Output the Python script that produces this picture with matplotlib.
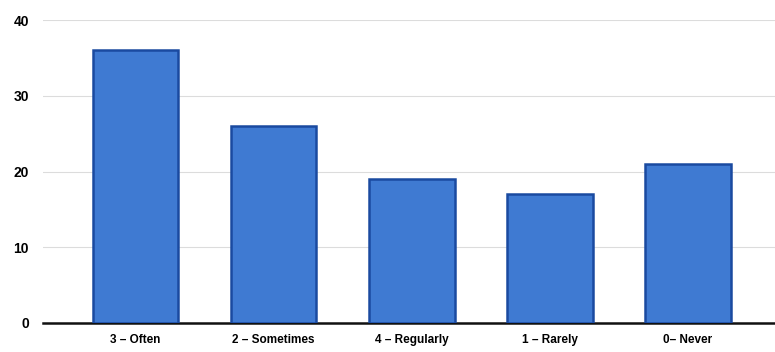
import matplotlib.pyplot as plt

categories = ["3 \u2013 Often", "2 \u2013 Sometimes", "4 \u2013 Regularly", "1 \u2013 Rarely", "0\u2013 Never"]
counts = [36, 26, 19, 17, 21]
y_ticks = [0, 10, 20, 30, 40]

plt.rcParams["font.family"] = ["Liberation Sans", "DejaVu Sans"]

fig = plt.figure(figsize=(7.75, 3.52), dpi=100)
ax = fig.add_axes([43 / 775, 1 - 323 / 352, 1 - 43 / 775, (323 - 20) / 352])

x = list(range(len(categories)))
ax.bar(x, counts, width=0.62, color="#3f7ad2", edgecolor="#1a4aa0", linewidth=1.8, zorder=3)

ax.set_xlim(-0.67, 4.63)
ax.set_ylim(0, 40)
ax.set_yticks(y_ticks)
ax.set_yticklabels([str(v) for v in y_ticks], fontsize=10, fontweight="bold")
ax.set_xticks(x)
ax.set_xticklabels(categories, fontsize=8.5, fontweight="bold")

ax.grid(axis="y", color="#dcdcdc", linewidth=0.8, zorder=0)
for s in ["top", "right", "left"]:
    ax.spines[s].set_visible(False)
ax.spines["bottom"].set_linewidth(1.8)
ax.spines["bottom"].set_color("#111111")
ax.tick_params(axis="both", length=0)
ax.tick_params(axis="y", pad=10)
ax.tick_params(axis="x", pad=8)

plt.savefig("out.png", dpi=100)
